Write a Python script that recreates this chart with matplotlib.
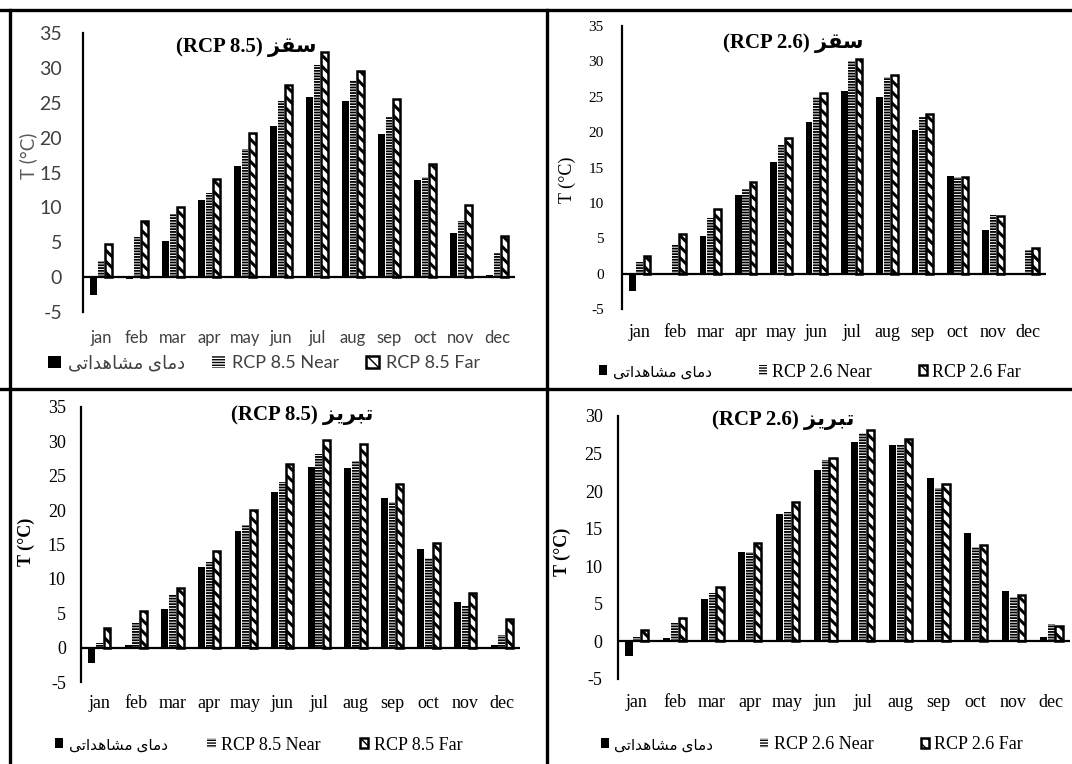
import matplotlib
matplotlib.use("Agg")
import matplotlib.pyplot as plt
from matplotlib.lines import Line2D
import numpy as np

plt.rcParams["axes.unicode_minus"] = False

months = ["jan", "feb", "mar", "apr", "may", "jun", "jul", "aug", "sep", "oct", "nov", "dec"]

# Persian words, already shaped (presentation forms, visual order)
saqqez = "\uFEB0\uFED8\uFEB3"
tabriz = "\uFEB0\uFBFE\uFEAE\uFE92\uFE97"
observed = "\uFBFD\uFE97\uFE8D\uFEAA\uFEEB\uFE8E\uFEB8\uFEE3 \uFBFC\uFE8E\uFEE3\uFEA9"

saqqez85_obs = [-2.5, -0.3, 5.2, 11.1, 15.9, 21.6, 25.8, 25.3, 20.5, 13.9, 6.3, 0.3]
saqqez85_near = [2.3, 5.8, 9.1, 12.1, 18.4, 25.3, 30.4, 28.3, 23.0, 14.3, 8.1, 3.4]
saqqez85_far = [4.8, 8.1, 10.1, 14.1, 20.6, 27.6, 32.3, 29.6, 25.5, 16.2, 10.3, 5.9]

saqqez26_obs = [-2.5, -0.2, 5.3, 11.1, 15.8, 21.4, 25.8, 25.0, 20.3, 13.8, 6.2, 0.0]
saqqez26_near = [1.6, 4.0, 7.9, 11.9, 18.2, 24.9, 30.0, 27.8, 22.2, 13.6, 8.3, 3.3]
saqqez26_far = [2.5, 5.6, 9.1, 12.9, 19.2, 25.5, 30.4, 28.1, 22.6, 13.6, 8.1, 3.6]

tabriz85_obs = [-2.2, 0.4, 5.6, 11.8, 17.0, 22.7, 26.3, 26.1, 21.7, 14.4, 6.6, 0.4]
tabriz85_near = [0.7, 3.6, 7.6, 12.4, 17.8, 24.1, 28.1, 27.1, 21.2, 13.0, 6.1, 1.9]
tabriz85_far = [2.8, 5.4, 8.7, 14.1, 20.0, 26.7, 30.2, 29.6, 23.8, 15.2, 8.0, 4.2]

tabriz26_obs = [-2.0, 0.4, 5.7, 11.9, 16.9, 22.8, 26.5, 26.2, 21.7, 14.4, 6.7, 0.6]
tabriz26_near = [0.6, 2.4, 6.5, 11.9, 17.2, 24.1, 27.8, 26.1, 20.4, 12.6, 5.9, 2.3]
tabriz26_far = [1.5, 3.1, 7.3, 13.1, 18.5, 24.4, 28.1, 26.9, 21.0, 12.8, 6.2, 2.1]

SERIF = ["Liberation Serif", "DejaVu Sans"]
SANS = ["Lato", "DejaVu Sans"]

fig = plt.figure(figsize=(10.72, 7.64), dpi=100)


def panel(rect, obs, near, far, scen, city, ylim, yticks, style):
    ax = fig.add_axes(rect)
    x = np.arange(len(months))
    w = 0.19
    b1 = ax.bar(x - 0.21, obs, w, color="black", label=observed)
    with plt.rc_context({"hatch.linewidth": 1.3}):
        b2 = ax.bar(x, near, w, color="white", edgecolor="black", linewidth=0,
                    hatch="------", label=f"RCP {scen} Near")
    with plt.rc_context({"hatch.linewidth": 2.2}):
        b3 = ax.bar(x + 0.21, far, w, color="white", edgecolor="black", linewidth=1.8,
                    hatch="\\\\\\", label=f"RCP {scen} Far")
    ax.set_xlim(-0.5, 11.5)
    ax.set_ylim(*ylim)
    ax.set_yticks(yticks)
    ax.axhline(0, color="black", lw=1.6, zorder=3)
    for s in ["top", "right", "bottom"]:
        ax.spines[s].set_visible(False)
    ax.spines["left"].set_linewidth(1.6)
    ax.set_xticks(x)
    ax.set_xticklabels(months)

    fam = style["fam"]
    tcol = style["color"]
    ax.tick_params(axis="both", length=0)
    ax.tick_params(axis="y", pad=style["ypad"], labelsize=style["ysize"], labelcolor=tcol)
    ax.tick_params(axis="x", pad=style["xpad"], labelsize=style["xsize"], labelcolor=tcol)
    for lab in ax.get_xticklabels() + ax.get_yticklabels():
        lab.set_family(fam)

    ax.set_ylabel("T (°C)", family=fam, fontsize=style["lsize"], color=style["lcolor"],
                  fontweight=style["lweight"])
    ax.yaxis.set_label_coords(*style["lpos"])

    ax.text(style["tpos"][0], style["tpos"][1], f"(RCP {scen}) {city}", transform=ax.transAxes,
            ha="center", va="center", family=SERIF, fontsize=15, fontweight="bold")

    leg = ax.legend(handles=[b1, b2, b3], ncol=3, loc="center left",
                    bbox_to_anchor=style["legpos"], frameon=False, borderpad=0,
                    borderaxespad=0, handlelength=style["hsize"], handleheight=style["hsize"],
                    handletextpad=style["htp"], columnspacing=style["colsp"],
                    prop={"family": fam, "size": style["legsize"]}, labelcolor=tcol)
    leg.get_texts()[0].set_fontsize(style["fasize"])
    return ax


tl_style = dict(fam=SANS, color="#404040", ypad=15, ysize=14, xpad=13, xsize=12,
                lsize=13.5, lcolor="#595959", lweight="normal", lpos=(-0.106, 0.559),
                tpos=(0.377, 0.95), legpos=(-0.081, -0.183), legsize=13, fasize=13,
                colsp=1.5, hsize=0.7, htp=0.4)
tr_style = dict(fam=SERIF, color="black", ypad=13, ysize=11, xpad=11, xsize=13,
                lsize=13, lcolor="black", lweight="normal", lpos=(-0.108, 0.456),
                tpos=(0.403, 0.94), legpos=(-0.054, -0.223), legsize=13, fasize=11,
                colsp=2.6, hsize=0.45, htp=0.3)
bl_style = dict(fam=SERIF, color="black", ypad=11, ysize=13, xpad=9, xsize=13,
                lsize=13, lcolor="black", lweight="bold", lpos=(-0.105, 0.509),
                tpos=(0.503, 0.971), legpos=(-0.059, -0.229), legsize=13, fasize=11,
                colsp=2.2, hsize=0.45, htp=0.3)
br_style = dict(fam=SERIF, color="black", ypad=11, ysize=13, xpad=11, xsize=13,
                lsize=13, lcolor="black", lweight="bold", lpos=(-0.104, 0.483),
                tpos=(0.365, 0.985), legpos=(-0.038, -0.251), legsize=13, fasize=11,
                colsp=2.6, hsize=0.45, htp=0.3)

panel([0.0774, 0.5916, 0.403, 0.3652], saqqez85_obs, saqqez85_near, saqqez85_far,
      "8.5", saqqez, (-5, 35), range(-5, 36, 5), tl_style)
panel([0.5802, 0.5955, 0.3955, 0.3705], saqqez26_obs, saqqez26_near, saqqez26_far,
      "2.6", saqqez, (-5, 35), range(-5, 36, 5), tr_style)
panel([0.0756, 0.1073, 0.4095, 0.36], tabriz85_obs, tabriz85_near, tabriz85_far,
      "8.5", tabriz, (-5, 35), range(-5, 36, 5), bl_style)
panel([0.5765, 0.1113, 0.4216, 0.3442], tabriz26_obs, tabriz26_near, tabriz26_far,
      "2.6", tabriz, (-5, 30), range(-5, 31, 5), br_style)

# panel frame lines
for xs, ys in [([0.0, 1.0], [0.987, 0.987]), ([0.0, 1.0], [0.491, 0.491]),
               ([0.0093, 0.0093], [0.0, 0.987]), ([0.510, 0.510], [0.0, 0.987])]:
    fig.add_artist(Line2D(xs, ys, color="black", lw=2.4, transform=fig.transFigure))

fig.savefig("out.png", dpi=100)
